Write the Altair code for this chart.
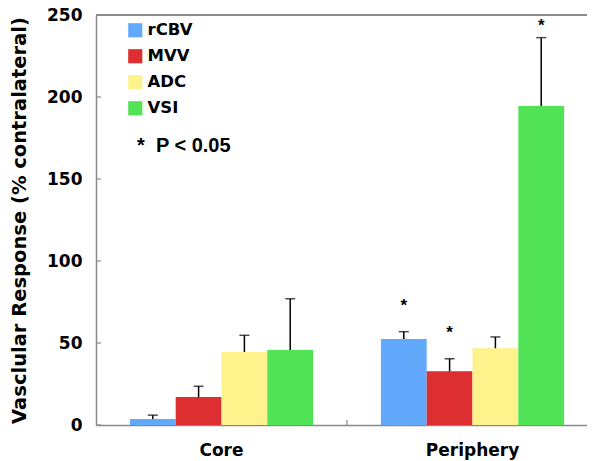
import altair as alt
import pandas as pd

groups = ["Core", "Periphery"]
series = ["rCBV", "MVV", "ADC", "VSI"]
colors = ["#63A9FB", "#DD2E31", "#FDF28B", "#51E256"]

core_vals = [3.7, 17.0, 44.5, 45.7]
core_errs = [2.3, 6.6, 10.2, 31.3]
peri_vals = [52.4, 32.7, 46.8, 194.5]
peri_errs = [4.5, 7.7, 6.9, 41.7]
peri_stars = [72.5, 56.0, None, 243.5]

y_ticks = [0, 50, 100, 150, 200, 250]

rows = []
for g, vals, errs in [("Core", core_vals, core_errs), ("Periphery", peri_vals, peri_errs)]:
    for s, v, e in zip(series, vals, errs):
        rows.append({"group": g, "series": s, "value": v, "top": v + e})
df = pd.DataFrame(rows)

star_df = pd.DataFrame([
    {"group": "Periphery", "series": s, "star": st, "label": "*"}
    for s, st in zip(series, peri_stars) if st is not None
])
tick_df = pd.DataFrame({"t": y_ticks})
band_df = pd.DataFrame({"group": ["Periphery"]})

FONT = "DejaVu Sans"
AX = "#8a8a8a"
W, H = 491, 410
XR = 502  # full category range (plot continues past the page edge)

x_enc = alt.X("group:N", sort=groups, title=None,
              scale=alt.Scale(paddingInner=0, paddingOuter=0, range=[0, XR]),
              axis=alt.Axis(labelFont=FONT, labelFontWeight="bold", labelFontSize=17,
                            labelColor="black", labelPadding=17, ticks=False,
                            domainColor=AX, domainWidth=1.5, labelAngle=0))
xo_enc = alt.XOffset("series:N", sort=series,
                     scale=alt.Scale(paddingInner=0, paddingOuter=0.74))
y_scale = alt.Scale(domain=[0, 250], nice=False)

bars = alt.Chart(df).mark_bar(strokeWidth=0).encode(
    x=x_enc,
    xOffset=xo_enc,
    y=alt.Y("value:Q", scale=y_scale,
            title="Vasclular Response (% contralateral)",
            axis=alt.Axis(values=y_ticks, ticks=False, grid=False, labelFont=FONT,
                          labelFontWeight="bold", labelFontSize=17, labelColor="black",
                          labelPadding=14, domainColor=AX, domainWidth=1.5,
                          titleFont=FONT, titleFontWeight="bold", titleFontSize=19.5,
                          titleColor="black", titlePadding=17)),
    color=alt.Color("series:N", sort=series,
                    scale=alt.Scale(domain=series, range=colors),
                    legend=alt.Legend(title=None, orient="none", legendX=31, legendY=7,
                                      symbolType="square", symbolSize=200,
                                      symbolStrokeWidth=0, symbolOpacity=1,
                                      labelFont=FONT, labelFontWeight="bold",
                                      labelFontSize=16.5, labelColor="black",
                                      labelOffset=4, rowPadding=9, padding=0)),
)

err = alt.Chart(df).mark_rule(color="black", strokeWidth=1.5).encode(
    x=alt.X("group:N", sort=groups), xOffset=alt.XOffset("series:N", sort=series),
    y="value:Q", y2="top:Q")
caps = alt.Chart(df).mark_tick(color="black", thickness=1.5, size=10, orient="horizontal").encode(
    x=alt.X("group:N", sort=groups), xOffset=alt.XOffset("series:N", sort=series),
    y="top:Q")

stars = alt.Chart(star_df).mark_text(font="Liberation Sans", fontWeight="bold",
                                     fontSize=17, color="black", baseline="middle").encode(
    x=alt.X("group:N", sort=groups), xOffset=alt.XOffset("series:N", sort=series),
    y="star:Q", text="label:N")

yticks = alt.Chart(tick_df).mark_rule(color=AX, strokeWidth=1.2).encode(
    y="t:Q", x=alt.value(0), x2=alt.value(5))
xtick = alt.Chart(band_df).mark_rule(color=AX, strokeWidth=1.2).encode(
    x=alt.X("group:N", sort=groups, bandPosition=0),
    y=alt.value(H - 5), y2=alt.value(H))
top_line = alt.Chart(tick_df).mark_rule(color=AX, strokeWidth=1.5).encode(
    y=alt.datum(250), x=alt.value(0), x2=alt.value(XR))

ptext = alt.Chart(pd.DataFrame({"t": ["*\u00a0\u00a0P < 0.05"]})).mark_text(
    font="Liberation Sans", fontWeight="bold", fontSize=20, color="black",
    align="left", baseline="middle").encode(
    text="t:N", x=alt.value(41), y=alt.value(131))

chart = alt.layer(bars, err, caps, stars, yticks, xtick, top_line, ptext).properties(
    width=W, height=H,
    padding={"left": 88, "top": 7, "right": 0, "bottom": 36},
    autosize=alt.AutoSizeParams(type="none"),
).configure_view(stroke=None).configure_axis(grid=False)

chart.save("out.html", embed_options={"renderer": "svg", "actions": False})
